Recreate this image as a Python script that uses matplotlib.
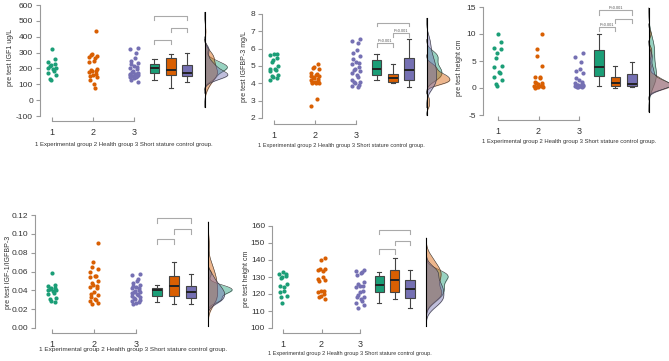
import numpy as np
import matplotlib.pyplot as plt

plt.rcParams['font.family'] = ['Liberation Sans', 'DejaVu Sans']

W, H = 669, 361

groups = ['1', '2', '3']
colors = ['#1b9e77', '#d95f02', '#7570b3']
caption = '1 Experimental group 2 Health group 3 Short stature control group.'

# pre test IGF1 ug/L
igf1_exp = [320, 262, 240, 230, 222, 215, 205, 200, 197, 185, 170, 160, 135, 128]
igf1_health = [433, 290, 284, 278, 272, 265, 248, 240, 195, 190, 185, 183, 180,
               168, 160, 150, 145, 130, 100, 75]
igf1_short = [330, 325, 298, 268, 250, 232, 225, 215, 210, 200, 195, 185, 178, 172,
              168, 165, 163, 160, 157, 155, 152, 150, 148, 145, 140, 130, 112]

# pre test IGFBP-3 mg/L
bp3_exp = [5.72, 5.7, 5.65, 5.45, 5.35, 5.25, 5.0, 4.85, 4.8, 4.75, 4.7, 4.5, 4.4,
           4.35, 4.3, 4.2]
bp3_health = [5.1, 4.95, 4.9, 4.8, 4.6, 4.55, 4.5, 4.45, 4.4, 4.35, 4.3, 4.25, 4.2,
              4.15, 4.1, 4.05, 4.0, 4.0, 4.0, 3.1, 2.7]
bp3_short = [6.55, 6.45, 6.3, 5.9, 5.75, 5.55, 5.4, 5.25, 5.2, 5.1, 4.95, 4.8, 4.75,
             4.7, 4.6, 4.5, 4.35, 4.2, 4.1, 4.05, 4.0, 3.9, 3.85, 3.8]

# pre test height cm (growth)
gv_exp = [10.0, 8.5, 7.5, 7.3, 6.4, 5.6, 4.0, 3.9, 3.0, 2.7, 2.0, 1.5, 0.8, 0.4]
gv_health = [10.0, 7.2, 6.0, 4.0, 2.0, 2.0, 1.8, 1.2, 1.0, 0.9, 0.7, 0.5, 0.4, 0.3,
             0.2, 0.1, 0.1, 0.0]
gv_short = [6.4, 5.8, 4.8, 3.6, 3.2, 2.8, 1.8, 1.5, 1.2, 1.0, 0.8, 0.6, 0.5, 0.5,
            0.45, 0.4, 0.4, 0.35, 0.3, 0.2, 0.1, 0.1]

# pre test IGF-1/IGFBP-3
ratio_exp = [0.058, 0.046, 0.045, 0.043, 0.042, 0.041, 0.040, 0.040, 0.039, 0.037,
             0.036, 0.032, 0.031, 0.029, 0.028]
ratio_health = [0.090, 0.070, 0.065, 0.063, 0.060, 0.055, 0.055, 0.054, 0.050, 0.048,
                0.046, 0.045, 0.044, 0.042, 0.038, 0.036, 0.035, 0.033, 0.031, 0.030,
                0.029, 0.027, 0.025]
ratio_short = [0.057, 0.056, 0.052, 0.050, 0.048, 0.046, 0.045, 0.044, 0.043, 0.042,
               0.040, 0.039, 0.038, 0.038, 0.037, 0.036, 0.035, 0.034, 0.033, 0.032,
               0.031, 0.030, 0.029, 0.028, 0.027, 0.026]

# pre test height cm
ht_exp = [133, 132, 131.5, 130.5, 130, 129.5, 126, 125, 124, 121.5, 121, 119, 118, 115]
ht_health = [141, 140, 135, 134.5, 134, 133.5, 130, 129, 128.5, 127.5, 122, 121.5,
             121, 120, 119, 118, 117]
ht_short = [134, 133.5, 133, 132.5, 131, 127, 126, 125, 124.5, 124, 122, 121, 119.5,
            118.5, 118, 117, 116, 115, 113.5, 111.5]

# layout in pixels: y spine x, tick "1" x, px per x unit, top tick px/val,
# bottom tick px/val, x spine px, ylabel pos, caption left/right/y
panels = [
    dict(data=[igf1_exp, igf1_health, igf1_short], ylabel='pre test IGF1 ug/L',
         yticks=[-100, 0, 100, 200, 300, 400, 500, 600], fmt='{:g}',
         sx=40, x1=52, dx=41, top=(5, 600), bot=(116, -100), xsp=121,
         ylab=(11, 57), cap=(35, 213, 145),
         brackets=[(0, 2, 530, 25, ''), (1, 2, 455, 25, ''), (0, 1, 380, 25, '')]),
    dict(data=[bp3_exp, bp3_health, bp3_short], ylabel='pre test IGFBP-3 mg/L',
         yticks=[2, 3, 4, 5, 6, 7, 8], fmt='{:g}',
         sx=262, x1=274, dx=41, top=(14, 8), bot=(118, 2), xsp=124,
         ylab=(245, 67), cap=(258, 425, 146),
         brackets=[(0, 2, 7.5, 0.22, ''), (1, 2, 6.89, 0.2, 'P<0.001'),
                   (0, 1, 6.31, 0.2, 'P<0.001')]),
    dict(data=[gv_exp, gv_health, gv_short], ylabel='pre test height cm',
         yticks=[-5, 0, 5, 10, 15], fmt='{:g}',
         sx=483, x1=498, dx=40.5, top=(7, 15), bot=(115, -5), xsp=120,
         ylab=(460, 68), cap=(483, 656, 141),
         brackets=[(0, 2, 14.4, 0.8, 'P<0.001'), (1, 2, 12.85, 0.8, ''),
                   (0, 1, 11.3, 0.8, 'P<0.001')]),
    dict(data=[ratio_exp, ratio_health, ratio_short], ylabel='pre test IGF-1/IGFBP-3',
         yticks=[0.0, 0.02, 0.04, 0.06, 0.08, 0.10, 0.12], fmt='{:.2f}',
         sx=35, x1=52, dx=42, top=(215, 0.12), bot=(328, 0.0), xsp=333,
         ylab=(9, 272), cap=(40, 227, 350),
         brackets=[(0, 2, 0.1165, 0.005, ''), (1, 2, 0.105, 0.005, ''),
                   (0, 1, 0.0944, 0.005, '')]),
    dict(data=[ht_exp, ht_health, ht_short], ylabel='pre test height cm',
         yticks=[100, 110, 120, 130, 140, 150, 160], fmt='{:g}',
         sx=272, x1=283, dx=38.5, top=(226, 160), bot=(328, 100), xsp=333,
         ylab=(246, 279), cap=(268, 432, 354),
         brackets=[(0, 2, 157.6, 2.5, ''), (1, 2, 151.3, 2.5, ''),
                   (0, 1, 146.2, 2.5, '')]),
]

box_pos = [3.5, 3.9, 4.3]
dens_base = 4.72
spine_col = '#9a9a9a'
text_col = '#333333'


def kde(values):
    v = np.asarray(values, dtype=float)
    n = len(v)
    sd = v.std(ddof=1)
    iqr = np.subtract(*np.percentile(v, [75, 25]))
    s = min(sd, iqr / 1.34) if iqr > 0 else sd
    bw = 0.9 * s * n ** -0.2
    grid = np.linspace(v.min() - 3 * bw, v.max() + 3 * bw, 300)
    d = np.exp(-0.5 * ((grid[:, None] - v[None, :]) / bw) ** 2).sum(1)
    d /= n * bw * np.sqrt(2 * np.pi)
    return grid, d


fig = plt.figure(figsize=(W / 100, H / 100), dpi=100)
renderer = fig.canvas.get_renderer()

for p in panels:
    width_px = 195
    ax = fig.add_axes([p['sx'] / W, 1 - p['xsp'] / H, width_px / W,
                       (p['xsp'] - p['top'][0]) / H])
    x0 = 1 - (p['x1'] - p['sx']) / p['dx']
    ax.set_xlim(x0, x0 + width_px / p['dx'])
    ppu = (p['bot'][0] - p['top'][0]) / (p['top'][1] - p['bot'][1])
    ax.set_ylim(p['bot'][1] - (p['xsp'] - p['bot'][0]) / ppu, p['top'][1])
    ax.patch.set_visible(False)

    # jittered points
    for i, vals in enumerate(p['data']):
        n = len(vals)
        off = 0.1 * np.sin(np.arange(n) * 2.4 + i)
        ax.scatter(i + 1 + off, vals, s=9, color=colors[i], linewidths=0,
                   clip_on=False, zorder=3)

    # boxes
    bp = ax.boxplot(p['data'], positions=box_pos, widths=0.24, patch_artist=True,
                    showfliers=False, capwidths=0.1, manage_ticks=False,
                    medianprops=dict(color='#222222', lw=1.4),
                    whiskerprops=dict(color='#444444', lw=0.8),
                    capprops=dict(color='#444444', lw=0.8),
                    boxprops=dict(edgecolor='#444444', lw=0.8))
    for patch, c in zip(bp['boxes'], colors):
        patch.set_facecolor(c)
    for art in bp['boxes'] + bp['whiskers'] + bp['caps'] + bp['medians']:
        art.set_clip_on(False)

    # half densities
    curves = [kde(v) for v in p['data']]
    dmax = max(d.max() for g, d in curves)
    scale = 0.57 / dmax
    lo = min(g.min() for g, d in curves)
    hi = max(g.max() for g, d in curves)
    for (g, d), c in zip(curves, colors):
        ax.fill_betweenx(g, dens_base, dens_base + d * scale, color=c, alpha=0.45,
                         lw=0, clip_on=False, zorder=2)
        ax.plot(dens_base + d * scale, g, color='#333333', lw=0.4, clip_on=False,
                zorder=2)
    ax.plot([dens_base, dens_base], [lo, hi], color='black', lw=0.8,
            clip_on=False, zorder=2)

    # significance brackets
    for a, b, lvl, leg, lab in p['brackets']:
        xa, xb = box_pos[a], box_pos[b]
        ax.plot([xa, xa, xb, xb], [lvl - leg, lvl, lvl, lvl - leg], color='#aaaaaa',
                lw=0.8, clip_on=False)
        if lab:
            ax.text((xa + xb) / 2, lvl, lab, ha='center', va='bottom', fontsize=2.8,
                    color='#555555')

    # axes styling
    for side in ['top', 'right']:
        ax.spines[side].set_visible(False)
    for side in ['left', 'bottom']:
        ax.spines[side].set_color(spine_col)
        ax.spines[side].set_linewidth(0.8)
    ax.spines['left'].set_bounds(p['yticks'][0], p['yticks'][-1])
    ax.spines['bottom'].set_bounds(1, 3)
    ax.set_yticks(p['yticks'])
    ax.set_yticklabels([p['fmt'].format(t) for t in p['yticks']])
    ax.set_xticks([1, 2, 3])
    ax.set_xticklabels(groups)
    ax.tick_params(axis='y', direction='out', length=3, width=0.8, color=spine_col,
                   labelsize=6, labelcolor=text_col, pad=2)
    ax.tick_params(axis='x', direction='in', length=3, width=0.8, color=spine_col,
                   labelsize=6.5, labelcolor=text_col, pad=5)

    fig.text(p['ylab'][0] / W, 1 - p['ylab'][1] / H, p['ylabel'], rotation=90,
             ha='center', va='center', fontsize=5, color=text_col)

    # caption sized to the width it spans in the reference
    cl, cr, cy = p['cap']
    t = fig.text((cl + cr) / 2 / W, 1 - cy / H, caption, ha='center',
                 va='center', fontsize=4.5, color=text_col)
    w = t.get_window_extent(renderer).width
    t.set_fontsize(4.5 * (cr - cl) / w)

fig.savefig('out.png', dpi=100)
